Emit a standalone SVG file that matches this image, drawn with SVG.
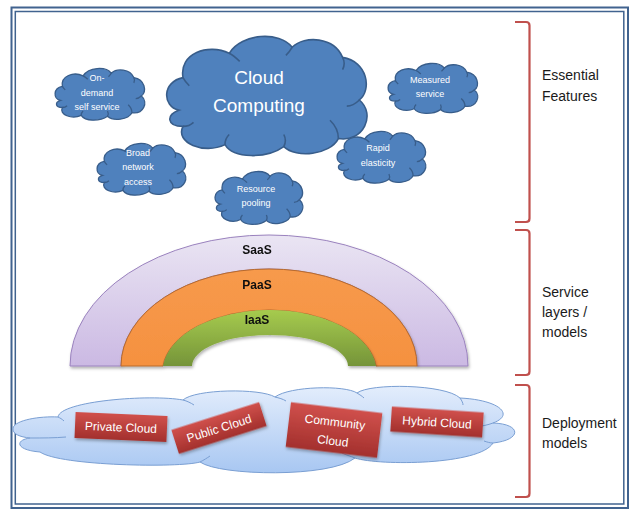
<svg xmlns="http://www.w3.org/2000/svg" xmlns:xlink="http://www.w3.org/1999/xlink" width="630" height="510" viewBox="0 0 630 510">
  <style>
    .feat { font-family: "Liberation Sans", Arial, sans-serif; fill: #ffffff; text-anchor: middle; }
    .small { font-size: 9px; }
    .big { font-size: 19px; }
    .side { font-family: "Liberation Sans", Arial, sans-serif; font-size: 14px; fill: #1a1a1a; }
    .layer { font-family: "Liberation Sans", Arial, sans-serif; font-size: 12px; font-weight: bold; fill: #111111; text-anchor: middle; }
    .tag { font-family: "Liberation Sans", Arial, sans-serif; font-size: 12px; fill: #ffffff; text-anchor: middle; }
    .brace { fill: none; stroke: #C0504D; stroke-width: 2.2; stroke-linejoin: round; }
    .frame { fill: none; stroke: #41638F; }
  </style>
  <defs>
    <!-- generic cloud outline in a 100 x 60 box -->
    <path id="cloudShape" vector-effect="non-scaling-stroke" d="M 8,38 C 0,36 0,24 10,22 C 8,10 22,5 32,10 C 38,0 56,-1 62,7 C 68,1 82,2 86,12 C 98,14 100,28 94,33 C 102,40 96,54 84,52 C 80,60 64,62 58,56 C 50,62 34,62 30,55 C 20,60 6,54 10,46 C 2,46 2,40 8,38 Z"/>
    <path id="cloudCrease" vector-effect="non-scaling-stroke" fill="none" d="M 10,46 C 12,46 14,45 15,44 M 30,55 C 30,53 31,51 32,50 M 58,56 C 59,54 59,52 58,50 M 84,52 C 84,48 82,45 80,43 M 94,33 C 92,35 90,36 88,36 M 86,12 C 87,14 87,16 86,18 M 62,7 C 61,9 60,10 59,11 M 32,10 C 34,11 36,13 37,14 M 10,22 C 11,24 12,25 13,26"/>
    <linearGradient id="saasFill" x1="0" y1="0" x2="0" y2="1">
      <stop offset="0" stop-color="#EAE5F3"/>
      <stop offset="1" stop-color="#CBB9E3"/>
    </linearGradient>
    <linearGradient id="paasFill" x1="0" y1="0" x2="0" y2="1">
      <stop offset="0" stop-color="#F79A4C"/>
      <stop offset="1" stop-color="#F59140"/>
    </linearGradient>
    <linearGradient id="iaasFill" x1="0" y1="0" x2="0" y2="1">
      <stop offset="0" stop-color="#A6CB4E"/>
      <stop offset="1" stop-color="#759439"/>
    </linearGradient>
    <linearGradient id="skyFill" x1="0" y1="0" x2="0" y2="1">
      <stop offset="0" stop-color="#E3EDFC"/>
      <stop offset="1" stop-color="#A8C7F2"/>
    </linearGradient>
    <linearGradient id="tagFill" x1="0" y1="0" x2="0" y2="1">
      <stop offset="0" stop-color="#D0504C"/>
      <stop offset="1" stop-color="#A3302D"/>
    </linearGradient>
    <filter id="shade" x="-10%" y="-10%" width="130%" height="140%">
      <feDropShadow dx="1" dy="2" stdDeviation="1.5" flood-color="#000000" flood-opacity="0.3"/>
    </filter>
  </defs>

  <!-- double frame -->
  <rect class="frame" x="11.5" y="7.5" width="616.5" height="500.5" stroke-width="2"/>
  <rect class="frame" x="15.3" y="11.5" width="608.5" height="492.5" stroke-width="1.5"/>

  <!-- essential features -->
  <g id="cloud-computing">
    <use xlink:href="#cloudShape" transform="translate(162,33) scale(2.1,2.03)" fill="#4F81BD" stroke="#385D8A" stroke-width="1.6"/>
    <use xlink:href="#cloudCrease" transform="translate(162,33) scale(2.1,2.03)" stroke="#385D8A" stroke-width="1.6"/>
    <text class="feat big" x="259" y="84">Cloud</text>
    <text class="feat big" x="259" y="112">Computing</text>
  </g>
  <g id="on-demand">
    <use xlink:href="#cloudShape" transform="translate(53,67) scale(0.94,0.88)" fill="#4F81BD" stroke="#385D8A" stroke-width="1.3"/>
    <use xlink:href="#cloudCrease" transform="translate(53,67) scale(0.94,0.88)" stroke="#385D8A" stroke-width="1.3"/>
    <text class="feat small" x="97" y="81">On-</text>
    <text class="feat small" x="97" y="96">demand</text>
    <text class="feat small" x="97" y="110">self service</text>
  </g>
  <g id="broad-network">
    <use xlink:href="#cloudShape" transform="translate(95,142) scale(0.93,0.88)" fill="#4F81BD" stroke="#385D8A" stroke-width="1.3"/>
    <use xlink:href="#cloudCrease" transform="translate(95,142) scale(0.93,0.88)" stroke="#385D8A" stroke-width="1.3"/>
    <text class="feat small" x="138" y="156">Broad</text>
    <text class="feat small" x="138" y="170">network</text>
    <text class="feat small" x="138" y="185">access</text>
  </g>
  <g id="resource-pooling">
    <use xlink:href="#cloudShape" transform="translate(213,170) scale(0.92,0.9)" fill="#4F81BD" stroke="#385D8A" stroke-width="1.3"/>
    <use xlink:href="#cloudCrease" transform="translate(213,170) scale(0.92,0.9)" stroke="#385D8A" stroke-width="1.3"/>
    <text class="feat small" x="256" y="192">Resource</text>
    <text class="feat small" x="256" y="206">pooling</text>
  </g>
  <g id="measured-service">
    <use xlink:href="#cloudShape" transform="translate(386,62) scale(0.94,0.85)" fill="#4F81BD" stroke="#385D8A" stroke-width="1.3"/>
    <use xlink:href="#cloudCrease" transform="translate(386,62) scale(0.94,0.85)" stroke="#385D8A" stroke-width="1.3"/>
    <text class="feat small" x="430" y="83">Measured</text>
    <text class="feat small" x="430" y="97">service</text>
  </g>
  <g id="rapid-elasticity">
    <use xlink:href="#cloudShape" transform="translate(335,130) scale(0.93,0.88)" fill="#4F81BD" stroke="#385D8A" stroke-width="1.3"/>
    <use xlink:href="#cloudCrease" transform="translate(335,130) scale(0.93,0.88)" stroke="#385D8A" stroke-width="1.3"/>
    <text class="feat small" x="378" y="151">Rapid</text>
    <text class="feat small" x="378" y="166">elasticity</text>
  </g>

  <!-- service layers as nested half rings -->
  <g id="saas" filter="url(#shade)">
    <path d="M 70,366 A 199,131 0 0 1 468,366 L 417,366 A 148,97 0 0 0 121,366 Z" fill="url(#saasFill)" stroke="#9A82BE" stroke-width="1"/>
    <text class="layer" x="257" y="254">SaaS</text>
  </g>
  <g id="paas" filter="url(#shade)">
    <path d="M 121,366 A 148,97 0 0 1 417,366 L 376,366 A 107,62 0 0 0 163,366 Z" fill="url(#paasFill)" stroke="#B86A2C" stroke-width="1"/>
    <text class="layer" x="257" y="289">PaaS</text>
  </g>
  <g id="iaas" filter="url(#shade)">
    <path d="M 163,366 A 107,62 0 0 1 376,366 L 348,366 A 78,31 0 0 0 192,366 Z" fill="url(#iaasFill)"/>
    <text class="layer" x="257" y="324">IaaS</text>
  </g>

  <!-- deployment models -->
  <g id="deployment-cloud">
    <path d="M 13,428 C 15,420 40,416 58,417 C 60,401 150,394 183,400 C 195,389 260,388 275,397 C 290,386 345,385 357,393 C 370,383 445,384 460,398 C 500,400 515,415 493,423 C 522,424 522,440 493,443 C 480,465 380,466 355,458 C 330,478 220,476 200,462 C 180,468 60,466 40,452 C 15,450 15,440 30,438 C 20,437 12,434 13,428 Z" fill="url(#skyFill)" stroke="#7A9FD3" stroke-width="1"/>
    <path d="M 30,438 C 42,438 55,438 66,437 M 58,417 C 60,418 62,419 64,421 M 183,400 C 187,401 191,403 194,405 M 275,397 C 279,398 283,399 286,401 M 357,393 C 360,395 362,396 364,398 M 460,398 C 462,401 463,403 463,405 M 493,423 C 488,425 482,426 476,427 M 493,443 C 490,443 487,442 484,441 M 355,458 C 350,456 346,455 342,453 M 200,462 C 204,460 207,458 210,456" fill="none" stroke="#7A9FD3" stroke-width="1"/>
  </g>
  <g id="private-cloud" transform="translate(121,427) rotate(2.5)">
    <rect x="-46" y="-13" width="92" height="26" fill="url(#tagFill)" filter="url(#shade)"/>
    <text class="tag" x="0" y="4.5">Private Cloud</text>
  </g>
  <g id="public-cloud" transform="translate(219,428) rotate(-17.6)">
    <rect x="-46" y="-12.5" width="92" height="25" fill="url(#tagFill)" filter="url(#shade)"/>
    <text class="tag" x="0" y="4.5">Public Cloud</text>
  </g>
  <g id="community-cloud" transform="translate(334,430) rotate(6.8)">
    <rect x="-46" y="-22.5" width="92" height="45" fill="url(#tagFill)" filter="url(#shade)"/>
    <text class="tag" x="0" y="-4">Community</text>
    <text class="tag" x="0" y="15">Cloud</text>
  </g>
  <g id="hybrid-cloud" transform="translate(437,422) rotate(3.7)">
    <rect x="-46" y="-12.5" width="92" height="25" fill="url(#tagFill)" filter="url(#shade)"/>
    <text class="tag" x="0" y="4.5">Hybrid Cloud</text>
  </g>

  <!-- grouping brackets -->
  <g id="brackets">
    <path class="brace" d="M 515,22 L 526,22 Q 529.5,22 529.5,25.5 L 529.5,218.5 Q 529.5,222 526,222 L 515,222"/>
    <path class="brace" d="M 515,230 L 526,230 Q 529.5,230 529.5,233.5 L 529.5,371.5 Q 529.5,375 526,375 L 515,375"/>
    <path class="brace" d="M 515,385 L 526,385 Q 529.5,385 529.5,388.5 L 529.5,493.5 Q 529.5,497 526,497 L 515,497"/>
  </g>

  <g id="labels">
    <text class="side" x="542" y="80">Essential</text>
    <text class="side" x="542" y="101">Features</text>
    <text class="side" x="542" y="297">Service</text>
    <text class="side" x="542" y="317">layers /</text>
    <text class="side" x="542" y="337">models</text>
    <text class="side" x="542" y="428">Deployment</text>
    <text class="side" x="542" y="448">models</text>
  </g>
</svg>
